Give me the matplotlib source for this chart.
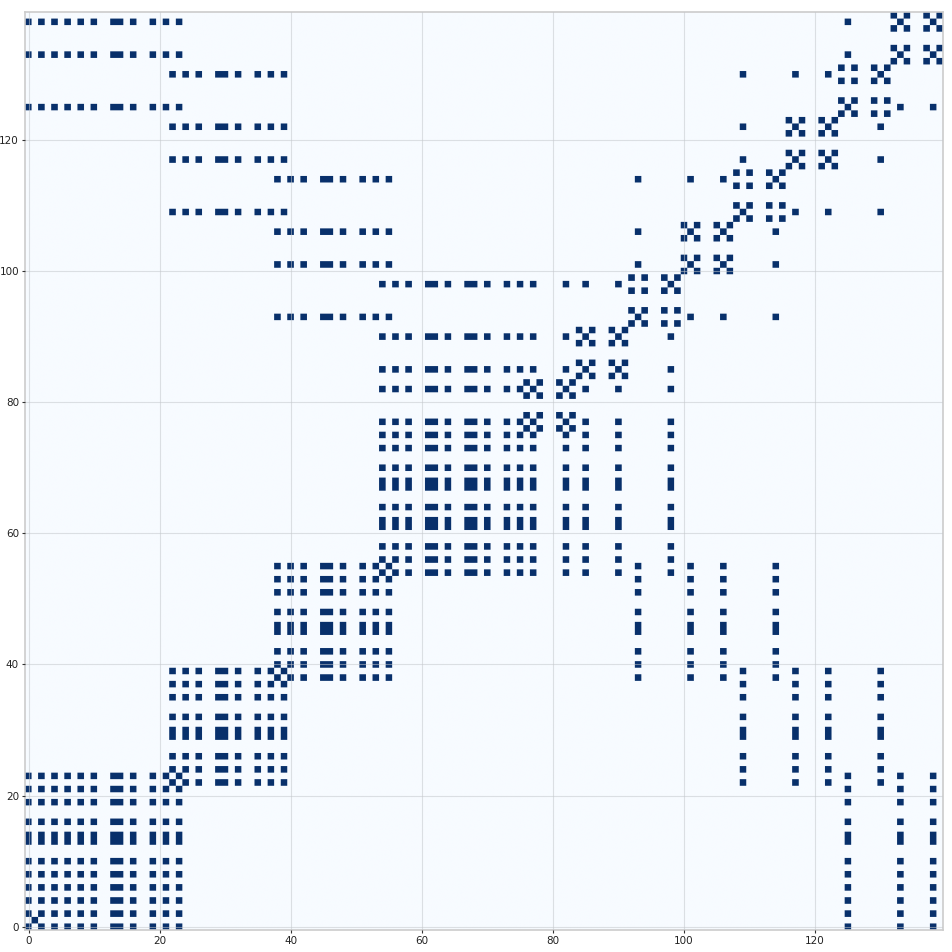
import numpy as np
import matplotlib
matplotlib.use("Agg")
import matplotlib.pyplot as plt

n_nodes = 140

# Index groups whose members are all connected to each other
group_a = [0, 2, 4, 6, 8, 10, 13, 14, 16, 19, 21, 23, 125, 133, 138]
group_b = [22, 24, 26, 29, 30, 32, 35, 37, 39, 109, 117, 122, 130]
group_c = [38, 40, 42, 45, 46, 48, 51, 53, 55, 93, 101, 106, 114]
group_d = [54, 56, 58, 61, 62, 64, 67, 68, 70, 73, 75, 77, 82, 85, 90, 98]
group_e = [76, 78, 81, 83]
group_f = [84, 86, 89, 91]
group_g = [92, 94, 97, 99]
group_h = [100, 102, 105, 107]
group_i = [108, 110, 113, 115]
group_j = [116, 118, 121, 123]
group_k = [124, 126, 129, 131]
group_l = [132, 134, 137, 139]
group_m = [1]

groups = [group_a, group_b, group_c, group_d, group_e, group_f, group_g,
          group_h, group_i, group_j, group_k, group_l, group_m]

tick_values = [0, 20, 40, 60, 80, 100, 120]

matrix = np.zeros((n_nodes, n_nodes))
for members in groups:
    matrix[np.ix_(members, members)] = 1

# Finer grid so that the downsampling filter gives even, soft cell edges
finer = 8
matrix_fine = np.repeat(np.repeat(matrix, finer, axis=0), finer, axis=1)

fig = plt.figure(figsize=(9.52, 9.52), dpi=100, facecolor="white")
ax = fig.add_axes([25.3 / 952, 22 / 952, 917.7 / 952, 918 / 952])
ax.imshow(matrix_fine, cmap="Blues", origin="lower", aspect="auto",
          interpolation="hanning", interpolation_stage="rgba", vmin=0, vmax=1,
          extent=(-0.5, n_nodes - 0.5, -0.5, n_nodes - 0.5))

ax.set_xticks(tick_values)
ax.set_yticks(tick_values)
ax.tick_params(axis="both", labelsize=7.5, length=2.5, width=0.8, pad=2,
               color="#333333", labelcolor="#222222")
ax.grid(True, color="#c4c8cc", linewidth=0.8, alpha=0.55, zorder=3)
ax.set_axisbelow(False)
for spine in ax.spines.values():
    spine.set_color("#cccccc")
    spine.set_linewidth(1.2)

fig.savefig("out.png", dpi=100)
